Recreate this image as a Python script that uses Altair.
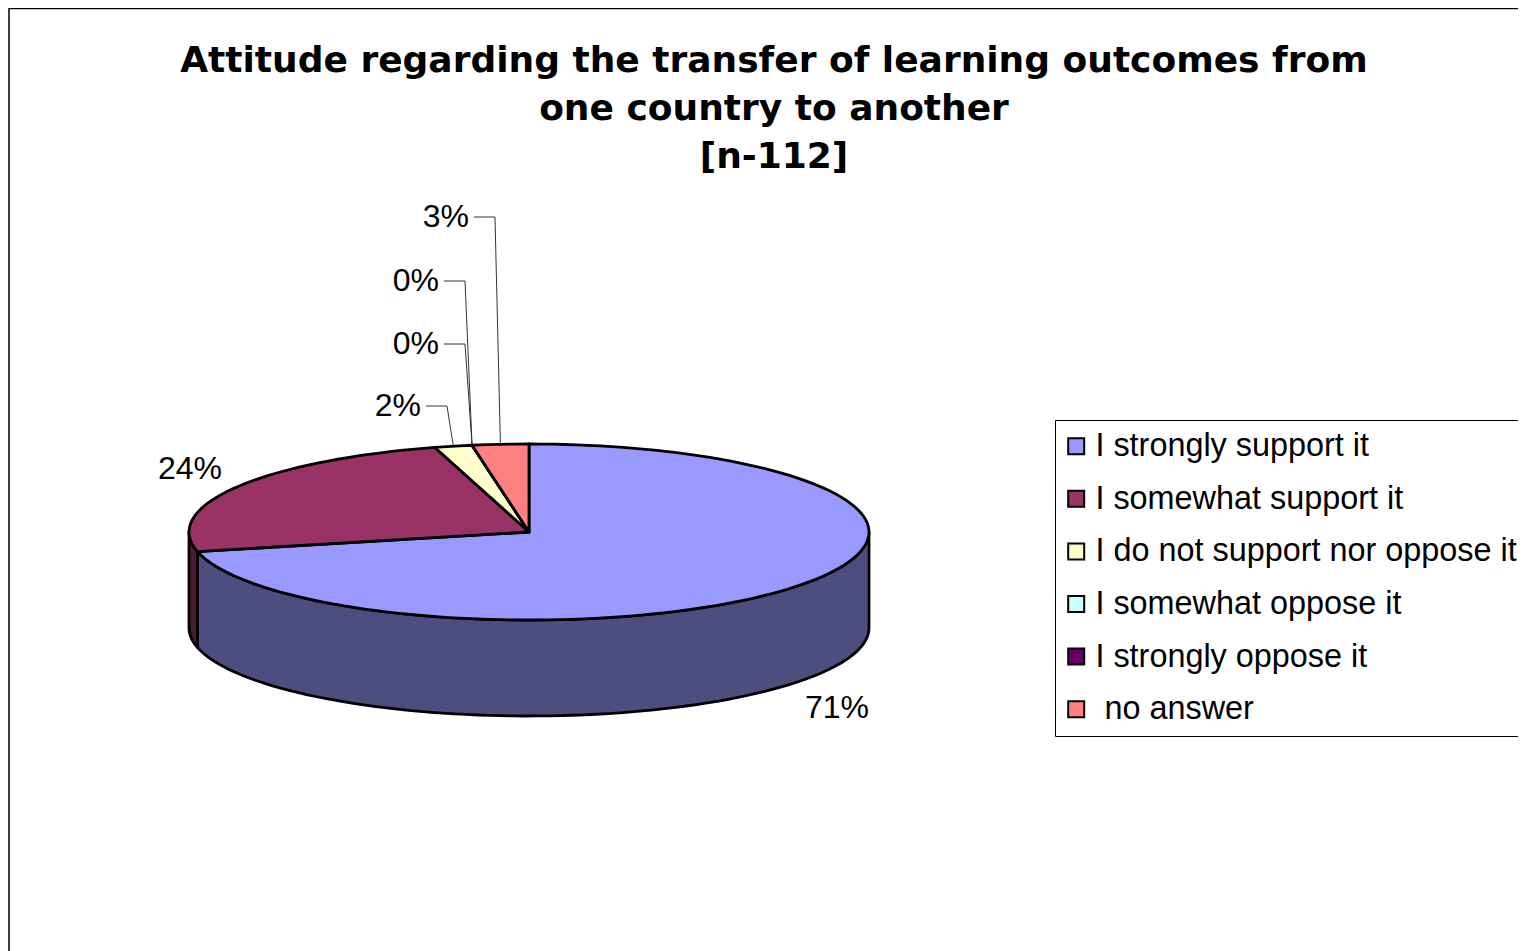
import math
import altair as alt
import pandas as pd

# Values (respondent counts, n = 112)
categories = ["I strongly support it", "I somewhat support it", "I do not support nor oppose it",
              "I somewhat oppose it", "I strongly oppose it", "\u200b\u00a0no answer"]
counts = [80, 27, 2, 0, 0, 3]
top_colors = ["#9999FF", "#993366", "#FFFFCC", "#CCFFFF", "#660066", "#FF8080"]
side_colors = ["#4D4D80", "#4D1A33", "#808066", "#668080", "#330033", "#804040"]
title_lines = ["Attitude regarding the transfer of learning outcomes from",
               "one country to another", "[n-112]"]

# Pie layout
CX, CY, RX, RY, DEPTH = 529, 532, 340, 88, 96
# Label layout: right edge and centre line of each label, same order as categories
label_right = [869, 222, 421, 439, 439, 469]
label_mid = [708, 469, 406, 344, 281, 217]
has_leader = [False, False, True, True, True, True]
ELBOW_GAP = 5
ELBOW_LEN = 21

total = sum(counts)


def rim(angle_deg):
    a = math.radians(angle_deg)
    return CX + RX * math.sin(a), CY - RY * math.cos(a)


def arc_angles(a0, a1, step=2.0):
    n = max(1, int(abs(a1 - a0) / step))
    return [a0 + (a1 - a0) * k / n for k in range(n + 1)]


starts, ends = [], []
acc = 0.0
for c in counts:
    starts.append(acc)
    acc += c / total * 360
    ends.append(acc)

top_rows, side_rows = [], []
for name, a0, a1 in zip(categories, starts, ends):
    i = 0
    top_rows.append({"cat": name, "i": i, "x": CX, "y": CY})
    for ang in arc_angles(a0, a1):
        i += 1
        x, y = rim(ang)
        top_rows.append({"cat": name, "i": i, "x": x, "y": y})
    lo, hi = max(a0, 90.0), min(a1, 270.0)
    if hi > lo:
        pts = [rim(ang) for ang in arc_angles(lo, hi)]
        j = 0
        for x, y in pts:
            side_rows.append({"cat": name, "i": j, "x": x, "y": y})
            j += 1
        for x, y in reversed(pts):
            side_rows.append({"cat": name, "i": j, "x": x, "y": y + DEPTH})
            j += 1

label_rows, leader_rows = [], []
for k, (c, a0, a1) in enumerate(zip(counts, starts, ends)):
    label_rows.append({"t": f"{round(c / total * 100)}%", "x": label_right[k], "y": label_mid[k]})
    if has_leader[k]:
        ex, ey = rim((a0 + a1) / 2)
        lx = label_right[k] + ELBOW_GAP
        ly = label_mid[k]
        for p, (px, py) in enumerate([(lx, ly), (lx + ELBOW_LEN, ly), (ex, ey)]):
            leader_rows.append({"k": k, "i": p, "x": px, "y": py})

xs = alt.Scale(domain=[8, 1518], nice=False, zero=False)
ys = alt.Scale(domain=[951, 190], nice=False, zero=False)
X = alt.X("x:Q", scale=xs, axis=None)
Y = alt.Y("y:Q", scale=ys, axis=None)

frame = alt.Chart(pd.DataFrame({"x": [1518, 9, 9], "y": [8.5, 8.5, 951], "i": [0, 1, 2]})).mark_line(
    color="black", strokeWidth=1.5).encode(x=X, y=Y, order="i:Q")

sides = alt.Chart(pd.DataFrame(side_rows)).mark_line(
    stroke="black", strokeWidth=2.8, interpolate="linear-closed", strokeJoin="round"
).encode(
    x=X, y=Y, order="i:Q",
    fill=alt.Fill("cat:N", scale=alt.Scale(domain=categories, range=side_colors), legend=None),
    detail="cat:N",
)

tops = alt.Chart(pd.DataFrame(top_rows)).mark_line(
    stroke="black", strokeWidth=2.8, interpolate="linear-closed", strokeJoin="round"
).encode(
    x=X, y=Y, order="i:Q",
    fill=alt.Fill(
        "cat:N",
        scale=alt.Scale(domain=categories, range=top_colors),
        legend=alt.Legend(
            orient="none", legendX=1047, legendY=230, title=None, fillColor="white",
            strokeColor="black", padding=10, rowPadding=19.6, symbolType="square",
            symbolSize=256, symbolStrokeColor="black", symbolStrokeWidth=2,
            symbolOffset=-5, labelFont="Liberation Sans", labelFontSize=32.4,
            labelColor="black", labelOffset=3, labelLimit=0,
        ),
    ),
    detail="cat:N",
)

leaders = alt.Chart(pd.DataFrame(leader_rows)).mark_line(color="#333333", strokeWidth=1).encode(
    x=X, y=Y, order="i:Q", detail="k:N")

labels = alt.Chart(pd.DataFrame(label_rows)).mark_text(
    align="right", baseline="middle", font="Liberation Sans", fontSize=32, color="black"
).encode(x=X, y=Y, text="t:N")

chart = alt.layer(frame, sides, leaders, tops, labels).resolve_scale(fill="independent").properties(
    width=1510,
    height=761,
    padding={"left": 0, "right": 0, "top": 182, "bottom": 0},
    autosize=alt.AutoSizeParams(type="none"),
    background="white",
    title=alt.TitleParams(
        text=title_lines, font="DejaVu Sans", fontSize=36, fontWeight="bold", color="black",
        lineHeight=48, anchor="middle", dx=11, offset=-170,
    ),
).configure_view(stroke=None)

chart.save("out.html", embed_options={"renderer": "svg", "actions": False})
